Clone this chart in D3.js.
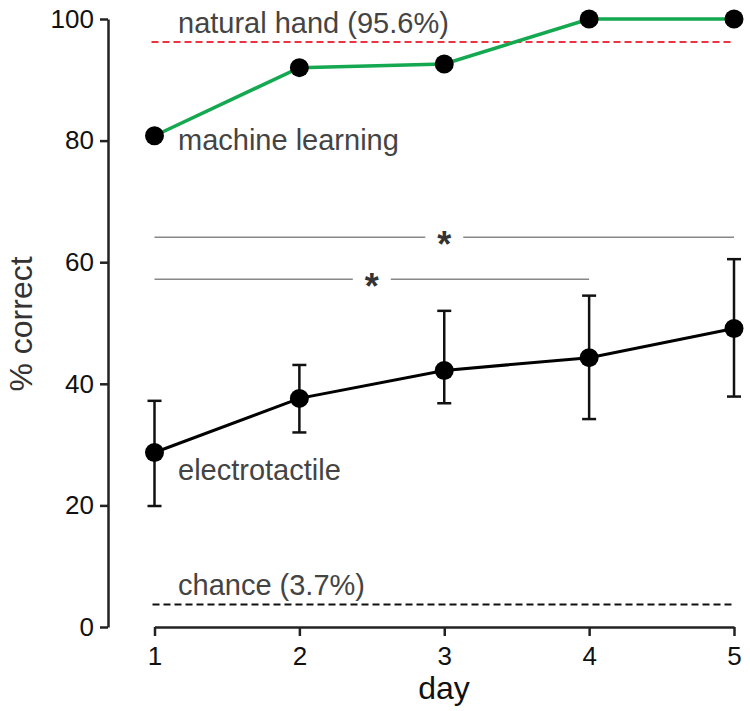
<!DOCTYPE html>
<html><head><meta charset="utf-8">
<script src="https://cdn.jsdelivr.net/npm/d3@7"></script>
<style>body{margin:0;background:#fff}svg{display:block}text{font-family:"Liberation Sans",Arial,sans-serif}</style>
</head><body><svg id="c" width="750" height="711"></svg>
<script>
const days = [1, 2, 3, 4, 5];
const machineLearning = [80.8, 92.0, 92.6, 100, 100];
const electrotactile = [28.7, 37.6, 42.2, 44.3, 49.1];
const errLow = [19.9, 32.0, 36.8, 34.2, 37.9];
const errHigh = [37.2, 43.1, 52.0, 54.5, 60.5];
const yTicks = [0, 20, 40, 60, 80, 100];
const naturalHandLine = 96.2;
const naturalHandLabel = "natural hand (95.6%)";
const chanceLine = 3.7;
const chanceLabel = "chance (3.7%)";
const sigBrackets = [{from: 1, to: 5, y: 64.1}, {from: 1, to: 4, y: 57.2}];

const svg = d3.select("#c");
const x = d3.scaleLinear().domain([1, 5]).range([154.5, 734]);
const y = d3.scaleLinear().domain([0, 100]).range([627, 19]);
const axisColor = "#222";

// Y axis
const yAx = svg.append("g").attr("transform", "translate(108,0)")
  .call(d3.axisLeft(y).tickValues(yTicks).tickSize(8).tickPadding(6).tickSizeOuter(0));
yAx.select(".domain").attr("stroke", axisColor).attr("stroke-width", 2.5);
yAx.selectAll(".tick line").attr("stroke", axisColor).attr("stroke-width", 2.5);
yAx.selectAll(".tick text").attr("fill", "#111").style("font-size", "26px").attr("font-family", null);

// X axis
const xAx = svg.append("g").attr("transform", "translate(0,627)")
  .call(d3.axisBottom(x).tickValues(days).tickFormat(d3.format("d")).tickSize(9).tickPadding(11).tickSizeOuter(0));
xAx.select(".domain").attr("stroke", axisColor).attr("stroke-width", 2.5);
xAx.selectAll(".tick line").attr("stroke", axisColor).attr("stroke-width", 2.5);
xAx.selectAll(".tick text").attr("fill", "#111").style("font-size", "26px").attr("font-family", null);

// Axis titles
svg.append("text").attr("x", 444).attr("y", 699).attr("text-anchor", "middle")
  .style("font-size", "32px").attr("fill", "#111").text("day");
svg.append("text").attr("transform", "translate(32,324) rotate(-90)").attr("text-anchor", "middle")
  .style("font-size", "32px").attr("fill", "#333").text("% correct");

// Reference lines
svg.append("line").attr("x1", x(1) - 3).attr("x2", x(5) - 2)
  .attr("y1", y(naturalHandLine)).attr("y2", y(naturalHandLine))
  .attr("stroke", "#ee3340").attr("stroke-width", 2).attr("stroke-dasharray", "7,4");
svg.append("line").attr("x1", x(1) - 2).attr("x2", x(5) - 1)
  .attr("y1", y(chanceLine)).attr("y2", y(chanceLine))
  .attr("stroke", "#111").attr("stroke-width", 2).attr("stroke-dasharray", "7,4");

// Significance brackets
sigBrackets.forEach(b => {
  const x1 = x(b.from), x2 = x(b.to), xm = (x1 + x2) / 2, yy = y(b.y);
  svg.append("line").attr("x1", x1).attr("x2", xm - 19).attr("y1", yy).attr("y2", yy)
    .attr("stroke", "#888").attr("stroke-width", 1.5);
  svg.append("line").attr("x1", xm + 19).attr("x2", x2).attr("y1", yy).attr("y2", yy)
    .attr("stroke", "#888").attr("stroke-width", 1.5);
  svg.append("text").attr("x", xm).attr("y", yy + 20).attr("text-anchor", "middle")
    .style("font-size", "36px").style("font-weight", "bold").attr("fill", "#333").text("*");
});

// Machine learning series
const ml = days.map((d, i) => ({d, v: machineLearning[i]}));
svg.append("path").datum(ml)
  .attr("d", d3.line().x(p => x(p.d)).y(p => y(p.v)))
  .attr("fill", "none").attr("stroke", "#14a850").attr("stroke-width", 3.5);
svg.selectAll(".mlpt").data(ml).join("circle").attr("class", "mlpt")
  .attr("cx", p => x(p.d)).attr("cy", p => y(p.v)).attr("r", 9.5).attr("fill", "#000");

// Electrotactile series
const et = days.map((d, i) => ({d, v: electrotactile[i], lo: errLow[i], hi: errHigh[i]}));
const eb = svg.selectAll(".eb").data(et).join("g").attr("class", "eb");
eb.append("line").attr("x1", p => x(p.d)).attr("x2", p => x(p.d))
  .attr("y1", p => y(p.lo)).attr("y2", p => y(p.hi)).attr("stroke", "#111").attr("stroke-width", 2.5);
eb.append("line").attr("x1", p => x(p.d) - 7).attr("x2", p => x(p.d) + 7)
  .attr("y1", p => y(p.lo)).attr("y2", p => y(p.lo)).attr("stroke", "#111").attr("stroke-width", 2.5);
eb.append("line").attr("x1", p => x(p.d) - 7).attr("x2", p => x(p.d) + 7)
  .attr("y1", p => y(p.hi)).attr("y2", p => y(p.hi)).attr("stroke", "#111").attr("stroke-width", 2.5);
svg.append("path").datum(et)
  .attr("d", d3.line().x(p => x(p.d)).y(p => y(p.v)))
  .attr("fill", "none").attr("stroke", "#000").attr("stroke-width", 3);
svg.selectAll(".etpt").data(et).join("circle").attr("class", "etpt")
  .attr("cx", p => x(p.d)).attr("cy", p => y(p.v)).attr("r", 9.5).attr("fill", "#000");

// Annotation labels
const lab = (t, yy) => svg.append("text").attr("x", 178).attr("y", yy)
  .style("font-size", "29px").attr("fill", "#444").text(t);
lab(naturalHandLabel, 33);
lab("machine learning", 150);
lab("electrotactile", 480);
lab(chanceLabel, 595);
</script></body></html>
